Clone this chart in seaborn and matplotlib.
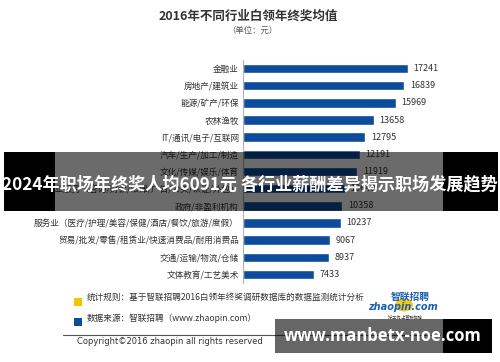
import pandas as pd
import numpy as np
import matplotlib.pyplot as plt
import seaborn as sns
from matplotlib.patches import Rectangle, Circle

# Dữ liệu
categories = [
    "金融业",
    "房地产/建筑业",
    "能源/矿产/环保",
    "农林渔牧",
    "IT/通讯/电子/互联网",
    "汽车/生产/加工/制造",
    "文化/传媒/娱乐/体育",
    "商业服务（咨询/财会/法律/广告/公关/认证/外包）",
    "政府/非盈利机构",
    "服务业（医疗/护理/美容/保健/酒店/餐饮/旅游/度假）",
    "贸易/批发/零售/租赁业/快速消费品/耐用消费品",
    "交通/运输/物流/仓储",
    "文体教育/工艺美术",
]
bonus = [17241, 16839, 15969, 13658, 12795, 12191, 11919, 10640, 10358, 10237, 9067, 8937, 7433]
value_labels = ["17241", "16839", "15969", "13658", "12795", "12191", "11919", "10640",
                "10358", "10237", "9067", "8937", "7433"]

df = pd.DataFrame({"行业": categories, "年终奖": bonus})

sns.set_theme(style="white")
plt.rcParams["font.family"] = ["Noto Sans CJK SC", "DejaVu Sans"]

W, H = 500, 362
fig = plt.figure(figsize=(5, 3.62), dpi=100)
fig.patch.set_facecolor("white")

def fx(x):
    return x / W

def fy(y):
    return 1 - y / H

ax = fig.add_axes([fx(243), fy(283), fx(480) - fx(243), fy(60) - fy(283)])
sns.barplot(data=df, y="行业", x="年终奖", orient="h", color="#0D4C9C",
            width=0.55, saturation=1, ax=ax)
ax.set_xlim(0, 24770)
ax.set_ylim(12.5, -0.5)
ax.set_xlabel("")
ax.set_ylabel("")
ax.set_xticks([])
ax.tick_params(axis="y", length=0, labelsize=6.2, labelcolor="#333333", pad=3)
for s in ["top", "right", "bottom"]:
    ax.spines[s].set_visible(False)
ax.spines["left"].set_color("#b0b0b0")
ax.spines["left"].set_linewidth(0.8)
ax.set_yticks(np.arange(-0.5, 13, 1), minor=True)
ax.tick_params(axis="y", which="minor", length=3, color="#b0b0b0", direction="out")
ax.set_facecolor("white")

for i, v in enumerate(bonus):
    ax.text(v + 600, i, value_labels[i], va="center", ha="left",
            fontsize=6.5, color="#333333")

# Tiêu đề
fig.text(fx(248), fy(16), "2016年不同行业白领年终奖均值", ha="center", va="center",
         fontsize=9, fontweight="bold", color="#333333")
fig.text(fx(252), fy(30), "（单位：元）", ha="center", va="center",
         fontsize=6, color="#555555")

# Chú thích phía dưới
fig.add_artist(Rectangle((fx(74), fy(306)), 8 / W, 8 / H, transform=fig.transFigure,
                         facecolor="#F5C400", edgecolor="none"))
fig.add_artist(Rectangle((fx(74), fy(326)), 8 / W, 8 / H, transform=fig.transFigure,
                         facecolor="#0D4C9C", edgecolor="none"))
fig.text(fx(87), fy(297), "统计规则：基于智联招聘2016白领年终奖调研数据库的数据监测统计分析",
         ha="left", va="center", fontsize=6.2, color="#333333")
fig.text(fx(87), fy(318), "数据来源：智联招聘（www.zhaopin.com）",
         ha="left", va="center", fontsize=6.2, color="#333333")
fig.add_artist(plt.Line2D([fx(63), fx(440)], [fy(335), fy(335)], transform=fig.transFigure,
                          color="#555555", linewidth=0.8))
fig.text(fx(77), fy(342), "Copyright©2016 zhaopin all rights reserved",
         ha="left", va="center", fontsize=6, color="#333333", family="DejaVu Sans")

# Logo zhaopin
fig.add_artist(Circle((fx(404), fy(305)), 9 / W, transform=fig.transFigure,
                      facecolor="#F5C400", edgecolor="none", alpha=0.9))
fig.text(fx(410), fy(297), "智联招聘", ha="center", va="center", fontsize=7,
         fontweight="bold", color="#1B5FB5")
fig.text(fx(403), fy(307), "zhaopin.com", ha="center", va="center", fontsize=7,
         fontweight="bold", style="italic", color="#1B5FB5", family="DejaVu Sans")
fig.text(fx(405), fy(317), "好工作 上智联招聘", ha="center", va="center", fontsize=3,
         color="#333333")

# Dải che phủ và tiêu đề lớn
fig.add_artist(Rectangle((fx(4), fy(211)), fx(55) - fx(4), (211 - 152) / H,
                         transform=fig.transFigure, facecolor="black", edgecolor="none", zorder=10))
fig.add_artist(Rectangle((fx(55), fy(211)), fx(443) - fx(55), (211 - 152) / H,
                         transform=fig.transFigure, facecolor="black", alpha=0.58,
                         edgecolor="none", zorder=10))
fig.add_artist(Rectangle((fx(443), fy(211)), fx(498) - fx(443), (211 - 152) / H,
                         transform=fig.transFigure, facecolor="black", edgecolor="none", zorder=10))
fig.text(fx(250), fy(184), "2024年职场年终奖人均6091元 各行业薪酬差异揭示职场发展趋势",
         ha="center", va="center", fontsize=12.3, fontweight="bold", color="white", zorder=11)

# Watermark
fig.add_artist(Rectangle((fx(275), fy(353)), fx(443) - fx(275), (353 - 319) / H,
                         transform=fig.transFigure, facecolor="black", alpha=0.6,
                         edgecolor="none", zorder=10))
fig.add_artist(Rectangle((fx(443), fy(353)), fx(492) - fx(443), (353 - 319) / H,
                         transform=fig.transFigure, facecolor="black", edgecolor="none", zorder=10))
fig.text(fx(383), fy(336), "www.manbetx-noe.com", ha="center", va="center",
         fontsize=12, fontweight="bold", color="white", family="Open Sans", zorder=11)

plt.savefig("out.png", dpi=100)
